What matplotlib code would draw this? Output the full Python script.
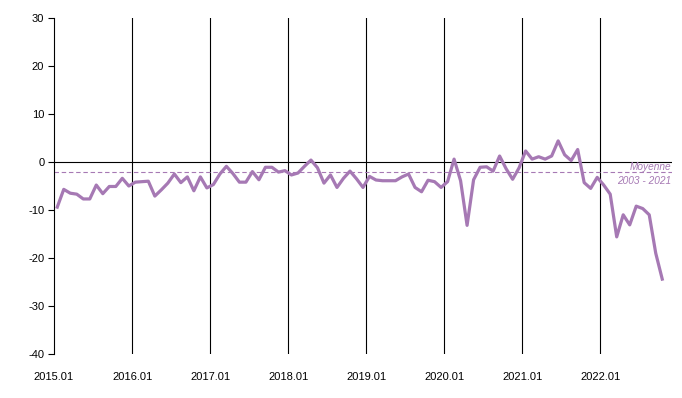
import matplotlib
matplotlib.use("Agg")
import matplotlib.pyplot as plt
import numpy as np

# valeurs mensuelles 2015.01 - 2022.10
valeurs = [
    -9.4, -5.7, -6.5, -6.7, -7.7, -7.7, -4.8, -6.6, -5.1, -5.1, -3.4, -5.0,
    -4.2, -4.1, -4.0, -7.1, -5.8, -4.4, -2.5, -4.3, -3.1, -6.0, -3.1, -5.4,
    -4.7, -2.5, -0.9, -2.4, -4.2, -4.2, -2.0, -3.7, -1.1, -1.1, -2.1, -1.8,
    -2.7, -2.3, -0.9, 0.4, -1.2, -4.4, -2.7, -5.3, -3.4, -1.9, -3.5, -5.3,
    -3.0, -3.75, -3.9, -3.9, -3.9, -3.1, -2.5, -5.3, -6.2, -3.8, -4.1, -5.3,
    -4.1, 0.6, -3.9, -13.2, -3.7, -1.1, -1.0, -1.9, 1.25, -1.4, -3.6, -1.2,
    2.3, 0.6, 1.1, 0.6, 1.25, 4.4, 1.5, 0.3, 2.6, -4.3, -5.5, -3.2,
    -4.8, -6.7, -15.6, -11.0, -13.1, -9.2, -9.7, -11.0, -19.0, -24.4,
]
annees = ["2015.01", "2016.01", "2017.01", "2018.01", "2019.01",
          "2020.01", "2021.01", "2022.01"]
moyenne = -2.1

plt.rcParams['font.family'] = ['Liberation Sans', 'DejaVu Sans']
plt.rcParams['axes.unicode_minus'] = False

fig = plt.figure(figsize=(6.82, 3.98), dpi=100)
ax = fig.add_axes([54/682, 1-354/398, 618/682, 336/398])

x = np.arange(len(valeurs))
ax.plot(x, valeurs, color="#a679b4", lw=2.3, solid_joinstyle="round", zorder=3)

ax.axhline(moyenne, color="#a679b4", lw=0.8, ls=(0, (4, 2.5)), zorder=2)
ax.axhline(0, color="black", lw=0.8, zorder=2)

pos = [12*k - 0.5 for k in range(len(annees))]
for p in pos[1:]:
    ax.axvline(p, color="black", lw=0.8, zorder=1)

ax.text(94.4, -1.0, "Moyenne", ha="right", va="center", fontsize=7.3,
        style="italic", color="#a679b4")
ax.text(94.4, -3.9, "2003 - 2021", ha="right", va="center", fontsize=7.3,
        style="italic", color="#a679b4")

ax.set_xlim(-0.5, 94.5)
ax.set_ylim(-40, 30)
ax.set_yticks(range(-40, 31, 10))
ax.set_xticks(pos)
ax.set_xticklabels(annees)
ax.tick_params(axis="x", length=0, pad=13, labelsize=8)
ax.tick_params(axis="y", length=4, width=0.8, labelsize=8, pad=3)

for s in ["top", "right", "bottom"]:
    ax.spines[s].set_visible(False)
ax.spines["left"].set_linewidth(0.8)

fig.savefig("out.png", dpi=100)
